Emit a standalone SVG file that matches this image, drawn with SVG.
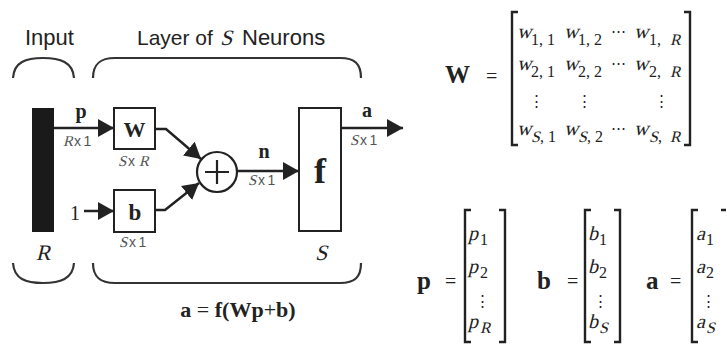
<svg xmlns="http://www.w3.org/2000/svg" width="727" height="344" viewBox="0 0 727 344">
<style>
.sans{font-family:"Liberation Sans",Arial,sans-serif}
.serif{font-family:"Liberation Serif","Times New Roman",serif}
.dj{font-family:"DejaVu Serif",serif}
.bd{font-weight:bold}
.brace{fill:none;stroke:#333;stroke-width:2.2}
.box{fill:#fff;stroke:#222;stroke-width:2}
.line{fill:none;stroke:#222;stroke-width:2.5}
.brk{fill:none;stroke:#222;stroke-width:2.4}
.dim{fill:#555;font-size:15px}
.dimx{fill:#555;font-size:14px;letter-spacing:2.5px;font-family:"Liberation Sans",Arial,sans-serif}
.w{font-size:20px}
.sub{font-size:16px}
.v{font-size:20px}
text{fill:#222}
</style>
<defs>
<marker id="ah" markerUnits="userSpaceOnUse" markerWidth="17" markerHeight="18" refX="16" refY="9" orient="auto">
<path d="M0,0 L16,9 L0,18 z" fill="#222"/>
</marker>
</defs>
<rect width="727" height="344" fill="#fff"/>

<g id="headings">
<text class="sans" x="25" y="45" font-size="22">Input</text>
<text class="sans" x="137" y="45" font-size="21">Layer of</text>
<text class="serif" transform="translate(220,45) skewX(-14)" font-size="22">S</text>
<text class="sans" x="242" y="45" font-size="22">Neurons</text>
</g>

<g id="braces">
<path class="brace" d="M13,78 C14,62 26,58 43,58 C60,58 73,62 74,78"/>
<path class="brace" d="M93,78 C93,64 100,58 115,58 L340,58 C355,58 361,64 361,78"/>
<path class="brace" d="M13,263 C14,279 26,283 43,283 C60,283 73,279 74,263"/>
<path class="brace" d="M93,263 C93,277 100,283 115,283 L340,283 C355,283 361,277 361,263"/>
</g>

<g id="input">
<rect x="32" y="108" width="22" height="124" fill="#1a1a1a"/>
<text class="serif" transform="translate(43,260) skewX(-14)" font-size="22" text-anchor="middle">R</text>
</g>

<g id="connectors">
<path class="line" d="M54,128 L114,128" marker-end="url(#ah)"/>
<path class="line" d="M84,211 L114,211" marker-end="url(#ah)"/>
<path class="line" d="M155,129 L166,129 L201,159" marker-end="url(#ah)"/>
<path class="line" d="M155,210 L165,210 L199,183" marker-end="url(#ah)"/>
<path class="line" d="M237,171 L299,171" marker-end="url(#ah)"/>
<path class="line" d="M341,128 L403,128" marker-end="url(#ah)"/>
</g>

<g id="labels">
<text class="serif bd" x="81" y="118" font-size="20" text-anchor="middle">p</text>
<text class="serif dim" transform="translate(63,146) skewX(-14)">R</text>
<text class="dimx" x="74" y="146">x1</text>
<text class="serif" x="75" y="220" font-size="20" text-anchor="middle">1</text>
<text class="serif bd" x="264" y="158" font-size="20" text-anchor="middle">n</text>
<text class="serif dim" transform="translate(248,185) skewX(-14)">S</text>
<text class="dimx" x="258" y="185">x1</text>
<text class="serif bd" x="367" y="117" font-size="20" text-anchor="middle">a</text>
<text class="serif dim" transform="translate(350,145) skewX(-14)">S</text>
<text class="dimx" x="360" y="145">x1</text>
</g>

<g id="W">
<rect class="box" x="114" y="108" width="41" height="41"/>
<text class="serif bd" x="134.5" y="137" font-size="22" text-anchor="middle">W</text>
<text class="serif dim" transform="translate(118,166) skewX(-14)">S</text>
<text class="dimx" x="128" y="166">x</text>
<text class="serif dim" transform="translate(139,166) skewX(-14)">R</text>
</g>

<g id="b">
<rect class="box" x="114" y="190" width="41" height="42"/>
<text class="serif bd" x="135" y="220" font-size="23" text-anchor="middle">b</text>
<text class="serif dim" transform="translate(119,247) skewX(-14)">S</text>
<text class="dimx" x="129" y="247">x1</text>
</g>

<g id="sum">
<circle cx="217" cy="172" r="20" fill="#fff" stroke="#222" stroke-width="2.2"/>
<path d="M205,172 H229 M217,160 V184" stroke="#222" stroke-width="2.2"/>
</g>

<g id="f">
<rect class="box" x="299" y="108" width="42" height="123"/>
<text class="serif bd" x="320" y="183" font-size="36" text-anchor="middle">f</text>
<text class="serif" transform="translate(321,260) skewX(-14)" font-size="22" text-anchor="middle">S</text>
</g>

<g id="equation">
<text class="serif bd" x="238" y="317" font-size="22" text-anchor="middle">a <tspan font-weight="normal">=</tspan> f(Wp<tspan font-weight="normal">+</tspan>b)</text>
</g>

<g id="Wmatrix" class="serif">
<text class="bd" x="445" y="83" font-size="25">W</text>
<text x="486" y="83" font-size="20">=</text>
<path class="brk" d="M518,12 H512 V145 H518 M684,12 H690 V145 H684"/>
<text class="w" transform="translate(517,38) skewX(-14)">w</text><text class="sub" x="531" y="45">1, 1</text>
<text class="w" transform="translate(564,38) skewX(-14)">w</text><text class="sub" x="578" y="45">1, 2</text>
<text class="w" transform="translate(634,38) skewX(-14)">w</text><text class="sub" x="649" y="45">1,</text><text class="sub" transform="translate(670,45) skewX(-14)">R</text>
<text class="w" transform="translate(517,70) skewX(-14)">w</text><text class="sub" x="531" y="77">2, 1</text>
<text class="w" transform="translate(564,70) skewX(-14)">w</text><text class="sub" x="578" y="77">2, 2</text>
<text class="w" transform="translate(634,70) skewX(-14)">w</text><text class="sub" x="649" y="77">2,</text><text class="sub" transform="translate(670,77) skewX(-14)">R</text>
<text class="w" transform="translate(517,135) skewX(-14)">w</text><text class="sub" transform="translate(531,142) skewX(-14)">S</text><text class="sub" x="540" y="142">, 1</text>
<text class="w" transform="translate(564,135) skewX(-14)">w</text><text class="sub" transform="translate(578,142) skewX(-14)">S</text><text class="sub" x="587" y="142">, 2</text>
<text class="w" transform="translate(634,135) skewX(-14)">w</text><text class="sub" transform="translate(649,142) skewX(-14)">S</text><text class="sub" x="658" y="142">,</text><text class="sub" transform="translate(670,142) skewX(-14)">R</text>
<g class="dj" font-size="15" text-anchor="middle">
<text x="618" y="36">⋯</text>
<text x="618" y="68">⋯</text>
<text x="618" y="133">⋯</text>
<text x="536" y="106">⋮</text>
<text x="584" y="106">⋮</text>
<text x="661" y="106">⋮</text>
</g>
</g>

<g id="pvector" class="serif">
<text class="bd" x="417" y="289" font-size="25">p</text>
<text x="445" y="288" font-size="20">=</text>
<path class="brk" d="M471,210 H465 V342 H471 M499,210 H505 V342 H499"/>
<text class="v" transform="translate(468,240) skewX(-14)">p</text><text class="sub" x="480" y="245">1</text>
<text class="v" transform="translate(468,273) skewX(-14)">p</text><text class="sub" x="480" y="278">2</text>
<text class="v" transform="translate(468,328) skewX(-14)">p</text><text class="sub" transform="translate(480,333) skewX(-14)">R</text>
<text class="dj" x="482" y="306" font-size="15" text-anchor="middle">⋮</text>
</g>

<g id="bvector" class="serif">
<text class="bd" x="537" y="289" font-size="25">b</text>
<text x="567" y="288" font-size="20">=</text>
<path class="brk" d="M591,210 H585 V342 H591 M614,210 H620 V342 H614"/>
<text class="v" transform="translate(588,240) skewX(-14)">b</text><text class="sub" x="599" y="245">1</text>
<text class="v" transform="translate(588,273) skewX(-14)">b</text><text class="sub" x="599" y="278">2</text>
<text class="v" transform="translate(588,328) skewX(-14)">b</text><text class="sub" transform="translate(599,333) skewX(-14)">S</text>
<text class="dj" x="600" y="306" font-size="15" text-anchor="middle">⋮</text>
</g>

<g id="avector" class="serif">
<text class="bd" x="646" y="289" font-size="25">a</text>
<text x="670" y="288" font-size="20">=</text>
<path class="brk" d="M698,210 H692 V342 H698 M721,210 H726"/>
<text class="v" transform="translate(696,240) skewX(-14)">a</text><text class="sub" x="706" y="245">1</text>
<text class="v" transform="translate(696,273) skewX(-14)">a</text><text class="sub" x="706" y="278">2</text>
<text class="v" transform="translate(696,328) skewX(-14)">a</text><text class="sub" transform="translate(706,333) skewX(-14)">S</text>
<text class="dj" x="708" y="306" font-size="15" text-anchor="middle">⋮</text>
</g>
</svg>
